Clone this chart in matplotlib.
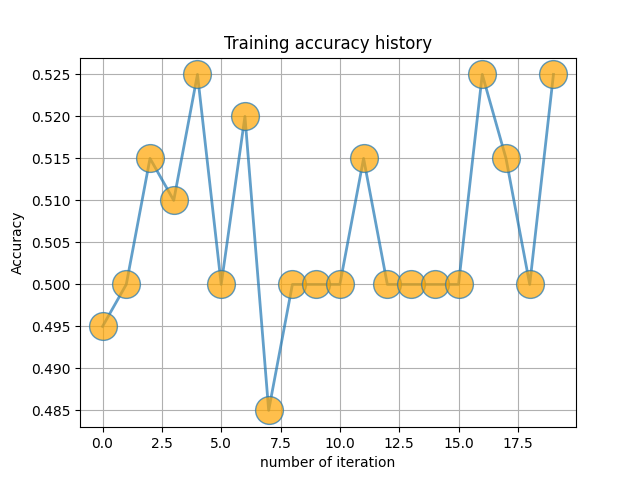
import matplotlib
matplotlib.use("Agg")
import matplotlib.pyplot as plt

iterations = list(range(20))
accuracy = [0.495, 0.500, 0.515, 0.510, 0.525, 0.500, 0.520, 0.485, 0.500, 0.500,
            0.500, 0.515, 0.500, 0.500, 0.500, 0.500, 0.525, 0.515, 0.500, 0.525]

fig, ax = plt.subplots(figsize=(6.4, 4.8), dpi=100)
ax.plot(iterations, accuracy, "-o", color="#1f77b4", lw=2, markersize=20,
        markerfacecolor="orange", alpha=0.7)
ax.set_title("Training accuracy history")
ax.set_xlabel("number of iteration")
ax.set_ylabel("Accuracy")
ax.grid(True)
fig.savefig("out.png")
